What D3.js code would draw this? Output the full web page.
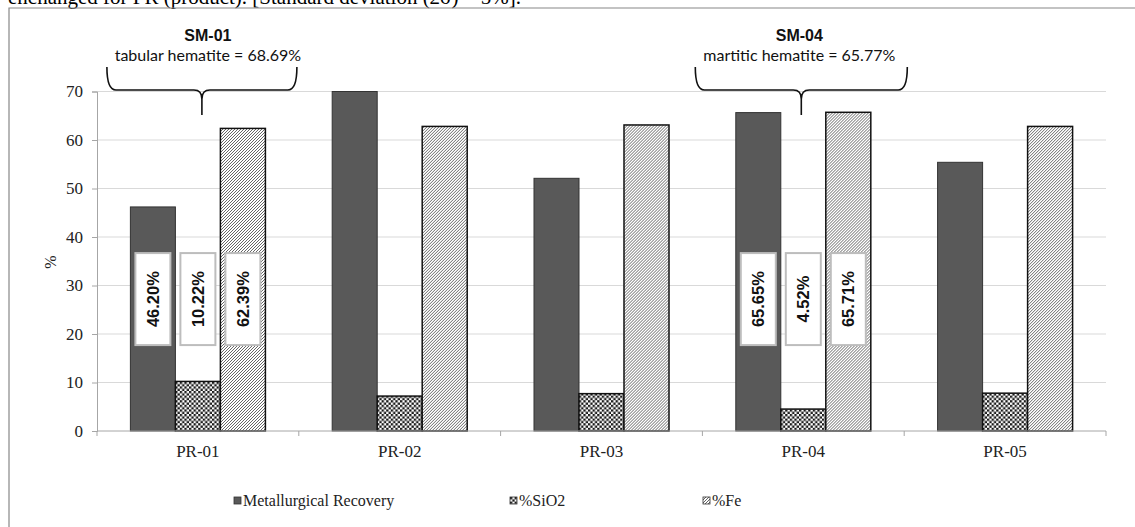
<html>
<head>
  <meta charset="utf-8">
  <title>PR recovery chart</title>
  <script src="https://d3js.org/d3.v7.min.js"></script>
  <style>
    body { margin: 0; background: #fff; }
  </style>
</head>
<body>
  <script>
    // chart values
    let categories = ["PR-01", "PR-02", "PR-03", "PR-04", "PR-05"];
    let seriesNames = ["Metallurgical Recovery", "%SiO2", "%Fe"];
    let recovery = [46.20, 70.0, 52.1, 65.65, 55.4];
    let sio2 = [10.22, 7.2, 7.7, 4.52, 7.8];
    let fe = [62.39, 62.8, 63.1, 65.71, 62.8];
    let yTicks = [0, 10, 20, 30, 40, 50, 60, 70];
    let labelledCats = ["PR-01", "PR-04"];
    let annCats = ["PR-01", "PR-04"];
    let annTitles = ["SM-01", "SM-04"];
    let annTexts = ["tabular hematite = 68.69%", "martitic hematite = 65.77%"];
    let caption = "enchanged for PR (product). [Standard deviation (2\u03c3) = 5%].";

    let width = 1135;
    let height = 527;
    let plotL = 97, plotR = 1106, plotT = 91.5, plotB = 431;
    let serif = "'Liberation Serif', 'Times New Roman', serif";
    let sans = "'Liberation Sans', Arial, sans-serif";

    let svg = d3.select("body")
      .append("svg")
      .attr("width", width)
      .attr("height", height);

    // patterns
    let defs = svg.append("defs");
    let chk = defs.append("pattern")
      .attr("id", "checker")
      .attr("width", 4.6).attr("height", 4.6)
      .attr("patternUnits", "userSpaceOnUse");
    chk.append("rect").attr("width", 4.6).attr("height", 4.6).attr("fill", "#fff");
    chk.append("rect").attr("width", 2.3).attr("height", 2.3).attr("fill", "#1a1a1a");
    chk.append("rect").attr("x", 2.3).attr("y", 2.3).attr("width", 2.3).attr("height", 2.3).attr("fill", "#1a1a1a");

    let hatch = defs.append("pattern")
      .attr("id", "hatch")
      .attr("width", 3).attr("height", 3)
      .attr("patternUnits", "userSpaceOnUse");
    hatch.append("rect").attr("width", 3).attr("height", 3).attr("fill", "#fff");
    hatch.append("path")
      .attr("d", "M-1,1 L1,-1 M0,3 L3,0 M2,4 L4,2")
      .attr("stroke", "#666")
      .attr("stroke-width", 1);

    let fills = ["#595959", "url(#checker)", "url(#hatch)"];
    let strokes = ["#333", "#111", "#111"];
    let strokeW = [1, 1.5, 1.5];

    // clipped caption and frame (caption is cut by the page edge in the original)
    svg.append("text")
      .attr("x", 8).attr("y", 4)
      .style("font-family", serif)
      .style("font-size", "21px")
      .attr("fill", "#000")
      .text(caption);
    svg.append("path")
      .attr("d", "M9," + height + " L9,8 L" + width + ",8")
      .attr("fill", "none")
      .attr("stroke", "#888")
      .attr("stroke-width", 1.2);

    let x = d3.scaleBand()
      .domain(categories)
      .range([plotL, plotR])
      .padding(0);
    let xs = d3.scaleBand()
      .domain(seriesNames)
      .range([0, x.bandwidth()])
      .paddingInner(0)
      .paddingOuter(0.742);
    let y = d3.scaleLinear()
      .domain([0, 70])
      .range([plotB, plotT]);

    // grid
    svg.append("g")
      .selectAll("line")
      .data(yTicks.filter(d => d > 0))
      .enter()
      .append("line")
      .attr("x1", plotL).attr("x2", plotR)
      .attr("y1", d => y(d)).attr("y2", d => y(d))
      .attr("stroke", "#d9d9d9")
      .attr("stroke-width", 1);

    // y axis
    let yAxis = svg.append("g")
      .attr("transform", "translate(" + plotL + ",0)")
      .call(d3.axisLeft(y).tickValues(yTicks).tickSize(5).tickPadding(9));
    yAxis.select(".domain").attr("stroke", "#a6a6a6");
    yAxis.selectAll(".tick line").attr("stroke", "#a6a6a6");
    yAxis.selectAll(".tick text")
      .style("font-family", serif)
      .style("font-size", "17px")
      .attr("fill", "#222");

    svg.append("text")
      .attr("transform", "translate(56,262) rotate(-90)")
      .attr("text-anchor", "middle")
      .style("font-family", serif)
      .style("font-size", "16px")
      .attr("fill", "#222")
      .text("%");

    // bars
    let rows = categories.map((c, i) => ({ cat: c, vals: [recovery[i], sio2[i], fe[i]] }));
    let groups = svg.append("g")
      .selectAll("g")
      .data(rows)
      .enter()
      .append("g")
      .attr("transform", d => "translate(" + x(d.cat) + ",0)");
    groups.selectAll("rect")
      .data(d => d.vals.map((v, k) => ({ name: seriesNames[k], v: v, k: k })))
      .enter()
      .append("rect")
      .attr("x", d => xs(d.name))
      .attr("y", d => y(d.v))
      .attr("width", xs.bandwidth())
      .attr("height", d => y(0) - y(d.v))
      .attr("fill", d => fills[d.k])
      .attr("stroke", d => strokes[d.k])
      .attr("stroke-width", d => strokeW[d.k]);

    // x axis
    let xAxisG = svg.append("g").attr("transform", "translate(0," + plotB + ")");
    xAxisG.append("line")
      .attr("x1", plotL).attr("x2", plotR)
      .attr("stroke", "#a6a6a6");
    xAxisG.selectAll(".tk")
      .data(categories.concat(["end"]))
      .enter()
      .append("line")
      .attr("x1", (d, i) => plotL + i * x.step())
      .attr("x2", (d, i) => plotL + i * x.step())
      .attr("y1", 0).attr("y2", 5)
      .attr("stroke", "#a6a6a6");
    xAxisG.selectAll("text")
      .data(categories)
      .enter()
      .append("text")
      .attr("x", d => x(d) + x.bandwidth() / 2)
      .attr("y", 26)
      .attr("text-anchor", "middle")
      .style("font-family", serif)
      .style("font-size", "17px")
      .attr("fill", "#222")
      .text(d => d);

    // data labels for selected products
    let labelY = y(27.2);
    let labelled = rows.filter(r => labelledCats.indexOf(r.cat) >= 0);
    labelled.forEach(r => {
      r.vals.forEach((v, k) => {
        let cx = x(r.cat) + xs(seriesNames[k]) + xs.bandwidth() / 2;
        let g = svg.append("g").attr("transform", "translate(" + cx + "," + labelY + ")");
        g.append("rect")
          .attr("x", -17.5).attr("y", -46)
          .attr("width", 35).attr("height", 92)
          .attr("fill", "#fff")
          .attr("stroke", "#bdbdbd")
          .attr("stroke-width", 2);
        g.append("text")
          .attr("transform", "rotate(-90)")
          .attr("text-anchor", "middle")
          .attr("dy", "0.36em")
          .style("font-family", sans)
          .style("font-weight", "bold")
          .style("font-size", "16.5px")
          .attr("fill", "#111")
          .text(v.toFixed(2) + "%");
      });
    });

    // braces and annotations
    let braceHalf = [95, 106];
    let textShift = [6, -2];
    annCats.forEach((c, i) => {
      let cx = x(c) + x.bandwidth() / 2 + (i === 0 ? 4 : -2);
      let x0 = cx - braceHalf[i], x1 = cx + braceHalf[i];
      let yTop = 67, yMid = 90, yTip = 115;
      let d = "M" + x0 + "," + yTop +
        " Q" + x0 + "," + yMid + " " + (x0 + 9) + "," + yMid +
        " L" + (cx - 8) + "," + yMid +
        " Q" + cx + "," + yMid + " " + cx + "," + (yMid + 9) +
        " L" + cx + "," + yTip +
        " M" + cx + "," + (yMid + 9) +
        " Q" + cx + "," + yMid + " " + (cx + 8) + "," + yMid +
        " L" + (x1 - 9) + "," + yMid +
        " Q" + x1 + "," + yMid + " " + x1 + "," + yTop;
      svg.append("path")
        .attr("d", d)
        .attr("fill", "none")
        .attr("stroke", "#111")
        .attr("stroke-width", 1.6);
      svg.append("text")
        .attr("x", cx + textShift[i]).attr("y", 41)
        .attr("text-anchor", "middle")
        .style("font-family", sans)
        .style("font-weight", "bold")
        .style("font-size", "16px")
        .attr("fill", "#111")
        .text(annTitles[i]);
      svg.append("text")
        .attr("x", cx + textShift[i]).attr("y", 61)
        .attr("text-anchor", "middle")
        .style("font-family", "Lato, 'Open Sans', sans-serif")
        .style("font-size", "16px")
        .attr("fill", "#111")
        .text(annTexts[i]);
    });

    // legend
    let legendX = [234, 510, 703];
    let legend = svg.append("g")
      .selectAll("g")
      .data(seriesNames)
      .enter()
      .append("g")
      .attr("transform", (d, i) => "translate(" + legendX[i] + ",497)");
    legend.append("rect")
      .attr("width", 7).attr("height", 7)
      .attr("fill", (d, i) => fills[i])
      .attr("stroke", "#333")
      .attr("stroke-width", 0.8);
    legend.append("text")
      .attr("x", 9).attr("y", 9)
      .style("font-family", serif)
      .style("font-size", "16px")
      .attr("fill", "#222")
      .text(d => d);
  </script>
</body>
</html>
